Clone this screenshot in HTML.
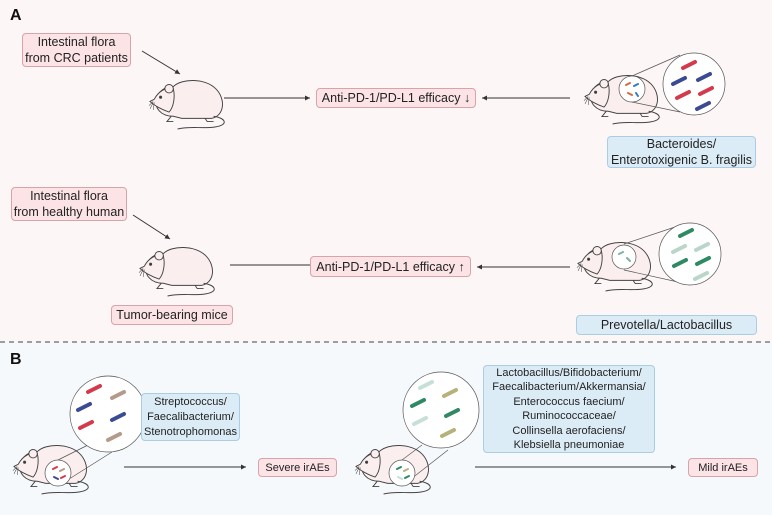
<!DOCTYPE html>
<html><head><meta charset="utf-8"><style>
html,body{margin:0;padding:0}
body{width:772px;height:515px;position:relative;overflow:hidden;font-family:"Liberation Sans",sans-serif;background:#fdf6f6}
.bot{position:absolute;left:0;top:342px;width:772px;height:173px;background:#f5f9fb}
.b{position:absolute;box-sizing:border-box;border:1px solid #d8a3ab;background:#fbe3e6;border-radius:4px;font-size:12.5px;color:#222;text-align:center;line-height:16px;display:flex;align-items:center;justify-content:center}
.bl{border-color:#a9cde2;background:#dcecf6}
.L{position:absolute;font-weight:bold;font-size:16px;color:#111}
svg{position:absolute;left:0;top:0}
</style></head><body>
<div class="bot"></div>
<svg width="772" height="515">
<defs>
<marker id="ah" markerWidth="6" markerHeight="6" refX="5" refY="3" orient="auto"><path d="M0,0.5 L5,3 L0,5.5z" fill="#333"/></marker>
<g id="mouse" fill="#fbeeee" stroke="#444" stroke-width="0.9">
<path d="M22,38 C10,38 4,30 6,22 C8,14 14,10 22,10 C30,2 52,2 62,12 C72,22 70,38 58,40 L30,40z"/>
<path d="M4,22 C8,14 16,10 22,12 C24,20 22,30 18,34 C12,32 4,28 0,24z"/>
<circle cx="18" cy="12" r="4"/>
<circle cx="10" cy="20" r="1" fill="#333"/>
<path d="M20,38 l-4,5 h6 M52,40 l2,3 h6" fill="none"/>
<path d="M60,38 C72,40 74,46 62,48 C50,50 38,47 26,50" fill="none"/>
<path d="M3,24 l-4,4 M3,25 l-3,6 M4,25 l-1,7" fill="none" stroke-width="0.5"/>
</g>
</defs>
<g stroke="#333" stroke-width="1" fill="none">
<line x1="142" y1="51" x2="180" y2="74" marker-end="url(#ah)"/>
<line x1="224" y1="98" x2="310" y2="98" marker-end="url(#ah)"/>
<line x1="570" y1="98" x2="482" y2="98" marker-end="url(#ah)"/>
<line x1="133" y1="215" x2="170" y2="239" marker-end="url(#ah)"/>
<line x1="230" y1="265" x2="310" y2="265"/>
<line x1="570" y1="267" x2="477" y2="267" marker-end="url(#ah)"/>
<line x1="124" y1="467" x2="246" y2="467" marker-end="url(#ah)"/>
<line x1="475" y1="467" x2="676" y2="467" marker-end="url(#ah)"/>
<line x1="0" y1="342" x2="772" y2="342" stroke="#444" stroke-dasharray="5,4"/>
</g>
<g transform="translate(150,76) scale(1.06)"><use href="#mouse"/></g>
<g transform="translate(585,71) scale(1.06)"><use href="#mouse"/></g>
<g transform="translate(140,243) scale(1.06)"><use href="#mouse"/></g>
<g transform="translate(578,238) scale(1.06)"><use href="#mouse"/></g>
<g transform="translate(14,441) scale(1.06)"><use href="#mouse"/></g>
<g transform="translate(356,441) scale(1.06)"><use href="#mouse"/></g>
<g stroke="#555" stroke-width="0.7" fill="#fff">
<line x1="632" y1="76" x2="680" y2="55"/><line x1="632" y1="102" x2="680" y2="112"/>
<circle cx="632" cy="89" r="13"/><circle cx="694" cy="84" r="31"/>
<line x1="624" y1="244" x2="678" y2="226"/><line x1="624" y1="270" x2="678" y2="282"/>
<circle cx="624" cy="257" r="12"/><circle cx="690" cy="254" r="31"/>
<line x1="58" y1="460" x2="88" y2="445"/><line x1="58" y1="486" x2="112" y2="452"/>
<circle cx="58" cy="473" r="13"/><circle cx="108" cy="414" r="38"/>
<line x1="402" y1="460" x2="422" y2="445"/><line x1="402" y1="486" x2="448" y2="450"/>
<circle cx="402" cy="473" r="13"/><circle cx="441" cy="410" r="38"/>
</g>
<g stroke-width="4" stroke-linecap="round">
<line x1="683" y1="68" x2="695" y2="62" stroke="#d33a4c"/><line x1="673" y1="84" x2="685" y2="78" stroke="#3a4b94"/>
<line x1="698" y1="80" x2="710" y2="74" stroke="#3a4b94"/><line x1="677" y1="98" x2="689" y2="92" stroke="#d33a4c"/>
<line x1="700" y1="94" x2="712" y2="88" stroke="#d33a4c"/><line x1="697" y1="109" x2="709" y2="103" stroke="#3a4b94"/>
<line x1="680" y1="236" x2="692" y2="230" stroke="#2f8a63"/><line x1="673" y1="252" x2="685" y2="246" stroke="#b9d6c9"/>
<line x1="696" y1="250" x2="708" y2="244" stroke="#b9d6c9"/><line x1="674" y1="266" x2="686" y2="260" stroke="#2f8a63"/>
<line x1="697" y1="264" x2="709" y2="258" stroke="#2f8a63"/><line x1="695" y1="279" x2="707" y2="273" stroke="#b9d6c9"/>
<line x1="88" y1="392" x2="100" y2="386" stroke="#d33a4c"/><line x1="78" y1="410" x2="90" y2="404" stroke="#3a4b94"/>
<line x1="80" y1="428" x2="92" y2="422" stroke="#d33a4c"/><line x1="112" y1="398" x2="124" y2="392" stroke="#b49a88"/>
<line x1="112" y1="420" x2="124" y2="414" stroke="#3a4b94"/><line x1="108" y1="440" x2="120" y2="434" stroke="#b49a88"/>
<line x1="420" y1="388" x2="432" y2="382" stroke="#c6e0d8"/><line x1="412" y1="406" x2="424" y2="400" stroke="#2f8a63"/>
<line x1="414" y1="424" x2="426" y2="418" stroke="#c6e0d8"/><line x1="444" y1="396" x2="456" y2="390" stroke="#b7b27a"/>
<line x1="446" y1="416" x2="458" y2="410" stroke="#2f8a63"/><line x1="442" y1="436" x2="454" y2="430" stroke="#b7b27a"/>
</g>
<g stroke-width="2" stroke-linecap="round">
<line x1="626" y1="85" x2="630" y2="83" stroke="#d56a3a"/><line x1="634" y1="86" x2="638" y2="84" stroke="#2e7fc1"/><line x1="628" y1="93" x2="632" y2="95" stroke="#d56a3a"/><line x1="636" y1="93" x2="638" y2="96" stroke="#2e7fc1"/>
<line x1="619" y1="254" x2="623" y2="252" stroke="#7cb3a1"/><line x1="627" y1="258" x2="630" y2="261" stroke="#7cb3a1"/>
<line x1="53" y1="469" x2="57" y2="467" stroke="#d33a4c"/><line x1="60" y1="471" x2="64" y2="469" stroke="#b49a88"/><line x1="54" y1="477" x2="58" y2="479" stroke="#3a4b94"/><line x1="61" y1="478" x2="65" y2="476" stroke="#d33a4c"/>
<line x1="397" y1="469" x2="401" y2="467" stroke="#2f8a63"/><line x1="404" y1="471" x2="408" y2="469" stroke="#b7b27a"/><line x1="398" y1="477" x2="402" y2="479" stroke="#c6e0d8"/><line x1="405" y1="478" x2="409" y2="476" stroke="#2f8a63"/>
</g>
</svg>
<div class="L" style="left:10px;top:7px">A</div>
<div class="L" style="left:10px;top:351px">B</div>
<div class="b" style="left:22px;top:33px;width:109px;height:34px">Intestinal flora<br>from CRC patients</div>
<div class="b" style="left:316px;top:88px;width:160px;height:20px">Anti-PD-1/PD-L1 efficacy ↓</div>
<div class="b bl" style="left:607px;top:136px;width:149px;height:32px">Bacteroides/<br>Enterotoxigenic B. fragilis</div>
<div class="b" style="left:11px;top:187px;width:116px;height:34px">Intestinal flora<br>from healthy human</div>
<div class="b" style="left:310px;top:256px;width:161px;height:21px">Anti-PD-1/PD-L1 efficacy ↑</div>
<div class="b" style="left:111px;top:305px;width:122px;height:20px">Tumor-bearing mice</div>
<div class="b bl" style="left:576px;top:315px;width:181px;height:20px">Prevotella/Lactobacillus</div>
<div class="b bl" style="left:141px;top:393px;width:99px;height:48px;font-size:11px;line-height:15px">Streptococcus/<br>Faecalibacterium/<br>Stenotrophomonas</div>
<div class="b" style="left:258px;top:458px;width:79px;height:19px;font-size:11px">Severe irAEs</div>
<div class="b bl" style="left:483px;top:365px;width:172px;height:88px;font-size:11px;line-height:14.5px">Lactobacillus/Bifidobacterium/<br>Faecalibacterium/Akkermansia/<br>Enterococcus faecium/<br>Ruminococcaceae/<br>Collinsella aerofaciens/<br>Klebsiella pneumoniae</div>
<div class="b" style="left:688px;top:458px;width:70px;height:19px;font-size:11px">Mild irAEs</div>
</body></html>
